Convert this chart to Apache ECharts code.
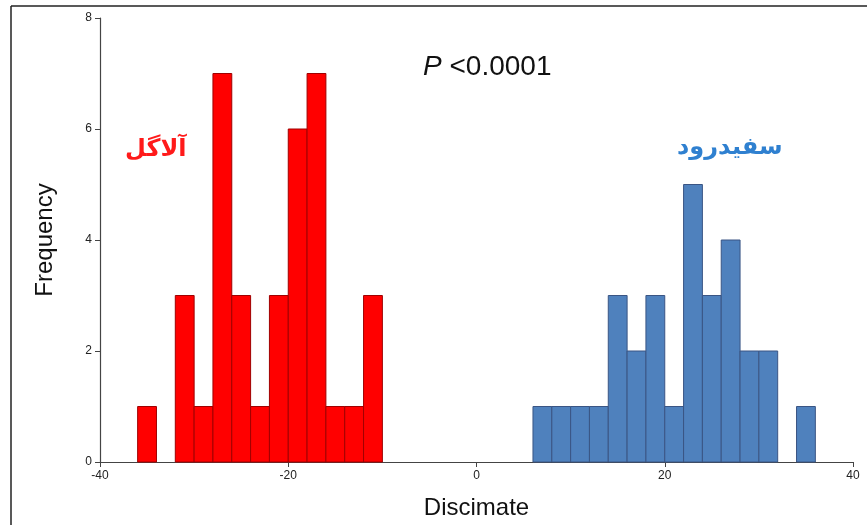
<!DOCTYPE html>
<html>
<head>
<meta charset="utf-8">
<script src="https://cdn.jsdelivr.net/npm/echarts@6/dist/echarts.min.js"></script>
<style>html,body{margin:0;padding:0;background:#fff}#c{width:867px;height:525px}</style>
</head>
<body>
<div id="c"></div>
<script>
var binWidth = 2;
var redBinStarts = [-36, -34, -32, -30, -28, -26, -24, -22, -20, -18, -16, -14, -12];
var redCounts    = [1, 0, 3, 1, 7, 3, 1, 3, 6, 7, 1, 1, 3];
var blueBinStarts = [6, 8, 10, 12, 14, 16, 18, 20, 22, 24, 26, 28, 30, 32, 34];
var blueCounts    = [1, 1, 1, 1, 3, 2, 3, 1, 5, 3, 4, 2, 2, 0, 1];
var redLabel = 'آلاگل';
var blueLabel = 'سفیدرود';
var xTicks = [-40, -20, 0, 20, 40];
var yTicks = [0, 2, 4, 6, 8];

function toData(starts, counts) {
  return starts.map(function (s, i) { return [s, s + binWidth, counts[i]]; });
}

function histRender(fill, stroke) {
  return function (params, api) {
    var v = api.value(2);
    if (!v) return null;
    var p0 = api.coord([api.value(0), 0]);
    var p1 = api.coord([api.value(1), v]);
    return {
      type: 'rect',
      shape: { x: p0[0], y: p1[1], width: p1[0] - p0[0], height: p0[1] - p1[1] },
      style: { fill: fill, stroke: stroke, lineWidth: 1 }
    };
  };
}

var chart = echarts.init(document.getElementById('c'));
chart.setOption({
  animation: false,
  backgroundColor: '#fff',
  grid: { left: 100, right: 14, top: 18, bottom: 62 },
  xAxis: {
    type: 'value', min: xTicks[0], max: xTicks[xTicks.length - 1], interval: 20,
    name: 'Discimate', nameLocation: 'middle', nameGap: 34,
    nameTextStyle: { fontFamily: 'Liberation Sans', fontSize: 24, color: '#111' },
    axisLine: { show: true, onZero: false, lineStyle: { color: '#444', width: 1.2 } },
    axisTick: { show: true, length: 5, lineStyle: { color: '#444' } },
    axisLabel: { fontFamily: 'Liberation Sans', fontSize: 12, color: '#222', margin: 8 },
    splitLine: { show: false }
  },
  yAxis: {
    type: 'value', min: yTicks[0], max: yTicks[yTicks.length - 1], interval: 2,
    name: 'Frequency', nameLocation: 'middle', nameGap: 43,
    nameTextStyle: { fontFamily: 'Liberation Sans', fontSize: 24, color: '#111' },
    axisLine: { show: true, onZero: false, lineStyle: { color: '#444', width: 1.2 } },
    axisTick: { show: true, length: 5, lineStyle: { color: '#444' } },
    axisLabel: { fontFamily: 'Liberation Sans', fontSize: 12, color: '#222', margin: 8 },
    splitLine: { show: false }
  },
  series: [
    { type: 'custom', renderItem: histRender('#ff0000', '#a00000'), encode: { x: [0, 1], y: 2 }, data: toData(redBinStarts, redCounts) },
    { type: 'custom', renderItem: histRender('#4f81bd', '#3a5584'), encode: { x: [0, 1], y: 2 }, data: toData(blueBinStarts, blueCounts) }
  ],
  graphic: [
    { type: 'line', shape: { x1: 11, y1: 6, x2: 867, y2: 6 }, style: { stroke: '#222', lineWidth: 1.5 } },
    { type: 'line', shape: { x1: 11, y1: 6, x2: 11, y2: 525 }, style: { stroke: '#222', lineWidth: 1.5 } },
    { type: 'text', left: 125, top: 138, style: { text: redLabel, fill: '#ff1a1a', font: 'bold 24px "DejaVu Sans"' } },
    { type: 'text', left: 677, top: 136, style: { text: blueLabel, fill: '#2f80d0', font: 'bold 24px "DejaVu Sans"' } },
    { type: 'text', left: 423, top: 53, style: {
        text: '{i|P} <0.0001',
        font: '28px "Liberation Sans"', fill: '#111',
        rich: { i: { fontStyle: 'italic', fontSize: 28, fontFamily: 'Liberation Sans', fill: '#111' } }
    } }
  ]
});
</script>
</body>
</html>
